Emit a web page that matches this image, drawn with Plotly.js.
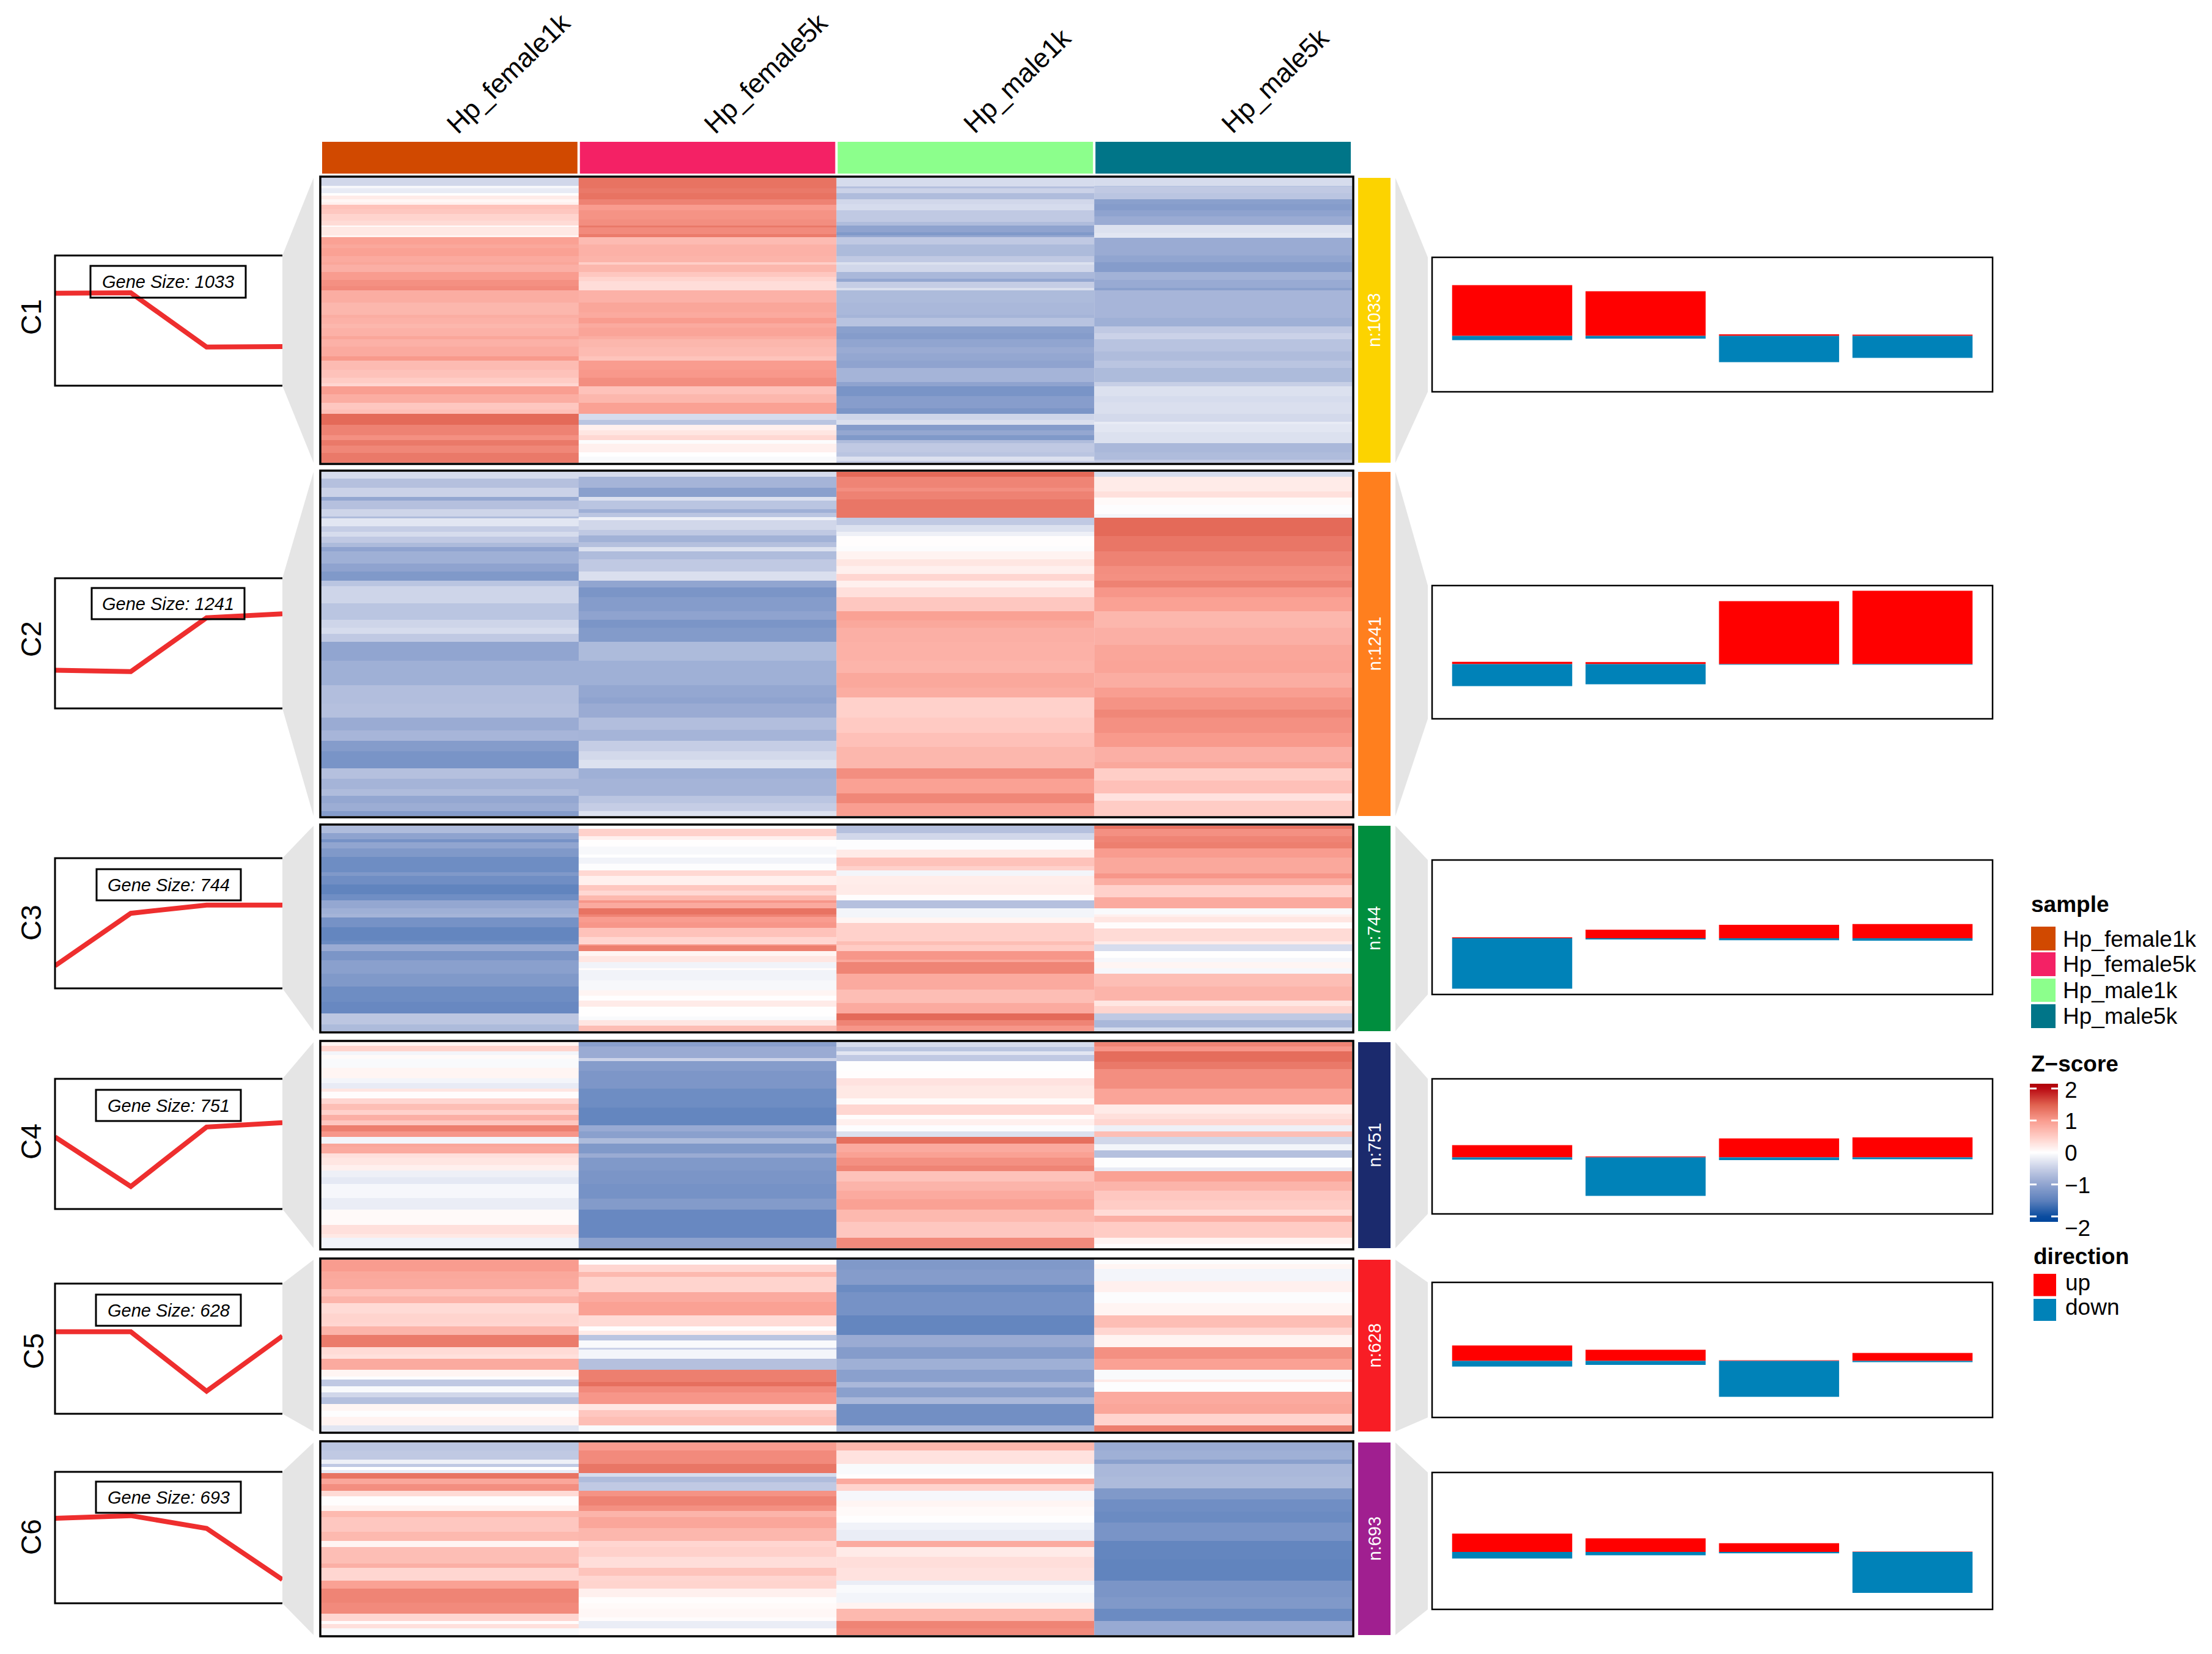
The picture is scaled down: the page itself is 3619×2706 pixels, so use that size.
<!DOCTYPE html>
<html><head><meta charset="utf-8">
<script src="https://cdn.plot.ly/plotly-3.0.1.min.js"></script>
<style>html,body{margin:0;padding:0;background:#fff}</style></head>
<body><div id="chart" style="width:3619px;height:2706px"></div>
<script>
const samples = ['Hp_female1k','Hp_female5k','Hp_male1k','Hp_male5k'];
const sampleColors = ['#D14900','#F42165','#8CFF8C','#007588'];
const clusters = ['C1','C2','C3','C4','C5','C6'];
const clusterSizes = [1033,1241,744,751,628,693];
const clusterColors = ['#FCD300','#FF7F1E','#008E3E','#1B2A6D','#F81D25','#A01F90'];

// cluster mean z-score per sample
const profileC1 = [0.63,0.64,-0.61,-0.60];
const profileC2 = [-0.62,-0.65,0.59,0.68];
const profileC3 = [-0.98,0.23,0.42,0.42];
const profileC4 = [0.16,-0.98,0.39,0.49];
const profileC5 = [0.39,0.39,-0.98,0.29];
const profileC6 = [0.44,0.50,0.21,-0.96];

// up / down bar heights per sample
const upC1 = [83,73,2.5,2];          const downC1 = [7,4.5,43,36];
const upC2 = [3.8,3.2,103,120];      const downC2 = [36,33,1,1];
const upC3 = [1.6,13.9,22,23.3];     const downC3 = [82.4,2,3.3,4];
const upC4 = [20,1.6,31,32.7];       const downC4 = [3.7,62.9,4.5,2.9];
const upC5 = [25.3,18.4,1.1,13];     const downC5 = [9.2,6.5,58.6,1.9];
const upC6 = [29.9,22.2,14.2,0.4];   const downC6 = [10.7,5.4,2.3,67];

// heatmap bands: [end of band in row order, z-score]
const c1a=[[58,-.4],[72,-.08],[94,-.2],[106,0],[125,.2],[140,.08],[153,.15],[172,.6],[198,.55],[230,.42],[252,.35],[260,.03],[300,.22],[310,.1],[345,.95],[365,.88],[402,.95],[432,.85],[445,.9],[482,.8],[520,1],[550,1.1],[572,1.15],[632,.82],[690,.72],[705,.82],[735,.78],[755,.72],[795,.78],[810,.9],[845,.78],[895,.85],[916,1.02],[960,.68],[1000,.6],[1025,.5],[1041,.4],[1080,.98],[1122,.82],[1155,.55],[1176,.62],[1228,1.42],[1280,1.22],[1305,1.1],[1330,1.3],[1368,1.18],[1415,1.3]];
const c1b=[[72,1.35],[94,1.3],[125,1.35],[153,1.22],[180,1],[225,1.08],[252,1.12],[262,1.3],[295,1.15],[310,1.28],[345,.68],[402,.78],[432,.75],[445,.48],[482,.72],[505,.55],[527,.42],[572,.33],[632,.78],[680,.9],[705,.85],[732,1],[752,.85],[795,.92],[810,.82],[850,.72],[895,.68],[916,.58],[960,1],[1000,1.03],[1041,1.12],[1080,.6],[1122,.72],[1176,.95],[1205,-.35],[1228,-.6],[1255,.15],[1280,.25],[1305,.38],[1322,-.03],[1365,.15],[1385,0],[1415,-.05]];
const c1c=[[62,-.35],[72,-.65],[95,-.45],[125,-.7],[150,-.4],[180,-.35],[210,-.55],[235,-.55],[252,-.7],[285,-1],[300,-1.15],[310,-.95],[345,-.55],[402,-.72],[432,-.55],[445,-.3],[482,-.4],[515,-.75],[530,-.95],[558,-.5],[572,-.32],[632,-.72],[690,-.75],[705,-.8],[746,-.62],[780,-1.05],[810,-1.1],[850,-.98],[880,-.9],[916,-.95],[950,-1],[1020,-.8],[1041,-1],[1090,-1.22],[1150,-1.08],[1176,-1.2],[1205,-.42],[1228,-.32],[1255,-1.1],[1280,-.95],[1305,-1.15],[1320,-.7],[1365,-.55],[1385,-.6],[1405,-.3],[1415,-.5]];
const c1d=[[58,-.35],[64,-.6],[95,-.55],[125,-.6],[150,-1.05],[180,-1.1],[210,-1],[250,-.9],[290,-.3],[312,-.25],[400,-.9],[432,-.98],[480,-1.1],[520,-.82],[558,-.92],[572,-1.05],[705,-.78],[747,-.85],[780,-.55],[810,-.45],[870,-.62],[915,-.7],[950,-.6],[1020,-.72],[1040,-.48],[1090,-.3],[1120,-.35],[1176,-.32],[1215,-.38],[1225,-.2],[1265,-.25],[1318,-.3],[1365,-.75],[1400,-.7],[1415,-.55]];

const c2a=[[45,-.35],[85,-.65],[125,-.45],[140,-.95],[178,-.65],[212,-.42],[220,-.7],[255,-.25],[280,-.5],[300,-.35],[328,-.55],[348,-.72],[365,-1],[420,-.85],[455,-1],[496,-1.15],[520,-.6],[595,-.42],[668,-.6],[705,-.42],[730,-.35],[766,-.55],[850,-.98],[960,-.85],[1040,-.68],[1103,-.65],[1160,-.9],[1205,-.78],[1250,-1.1],[1328,-1.22],[1372,-.65],[1420,-.8],[1450,-.7],[1480,-.95],[1515,-.88],[1538,-1.1]];
const c2b=[[36,-.35],[85,-.8],[126,-1.05],[140,-.3],[178,-.6],[195,-.85],[215,-.6],[228,-.15],[270,-.4],[295,-.55],[325,-.82],[348,-.65],[365,-.3],[400,-.7],[455,-.55],[496,-.32],[526,-.98],[568,-1.2],[630,-1.1],[668,-1],[705,-1.2],[766,-1.12],[850,-.72],[960,-.85],[1012,-.95],[1040,-1],[1103,-.9],[1155,-.68],[1205,-.8],[1250,-.5],[1290,-.38],[1328,-.3],[1372,-.85],[1450,-.8],[1480,-.6],[1515,-.5],[1538,-.3]];
const c2c=[[36,1.42],[85,1.2],[100,1.12],[135,1.22],[218,1.32],[250,-.55],[280,-.3],[298,-.15],[345,.02],[365,-.03],[400,.12],[430,.25],[465,.15],[496,.4],[525,.15],[568,.3],[630,.55],[672,.95],[703,.88],[766,.8],[850,.78],[905,.75],[970,.88],[1012,.82],[1103,.45],[1170,.52],[1232,.62],[1328,.72],[1372,1.12],[1438,.95],[1480,1.18],[1538,.98]];
const c2d=[[36,-.35],[100,.2],[128,.3],[160,.05],[200,-.02],[218,-.1],[298,1.42],[365,1.32],[430,1.22],[465,1.12],[496,1.1],[525,1.22],[568,1.05],[630,.95],[705,.72],[780,.8],[850,.9],[905,.92],[970,.82],[1012,.98],[1068,1.08],[1103,1.18],[1170,1.1],[1232,1.02],[1300,.8],[1328,.88],[1380,.48],[1438,.62],[1470,.28],[1538,.5]];

const c3a=[[50,-.7],[80,-1],[95,-1.25],[125,-.98],[165,-1.15],[240,-1.32],[258,-1.15],[300,-1.3],[350,-1.45],[380,-1.3],[417,-.95],[445,-.85],[462,-.8],[510,-1.25],[575,-1.42],[595,-1.35],[626,-.9],[670,-1.2],[738,-1.05],[800,-1.15],[875,-1.32],[932,-1.38],[985,-.58],[1018,-.72]];
const c3b=[[30,-.02],[66,.45],[82,.15],[115,.01],[155,-.07],[168,0],[198,-.12],[232,-.02],[258,.38],[303,.15],[330,.55],[355,.38],[380,.7],[390,1.05],[417,.85],[447,1.35],[460,1.2],[487,1],[513,1.05],[557,.6],[593,.4],[600,1],[626,1.25],[650,.1],[680,.25],[710,-.12],[720,.03],[770,-.12],[818,-.07],[845,.1],[870,.01],[898,.2],[945,.01],[965,-.05],[990,.25],[1018,.65]];
const c3c=[[50,-.65],[82,-.4],[130,-.02],[168,.2],[210,.6],[232,.45],[260,-.1],[300,.18],[352,.2],[380,.02],[417,-.65],[462,-.1],[490,.1],[580,.45],[597,.65],[626,.5],[668,1.05],[680,.9],[738,1.2],[815,.85],[880,.65],[932,.85],[965,1.42],[990,1.2],[1018,1.05]];
const c3d=[[30,1.35],[66,1.1],[95,1.2],[125,1.25],[170,1],[246,.88],[270,1.05],[303,.82],[365,.45],[417,.85],[447,-.05],[460,.15],[486,.25],[515,.03],[580,.35],[594,.2],[626,-.35],[660,.01],[680,-.08],[710,.1],[738,-.08],[800,.65],[870,.75],[895,.25],[932,.42],[965,-.55],[1000,-.75],[1018,-.35]];

const c4a=[[25,.1],[54,.42],[70,-.1],[90,.05],[135,-.05],[185,.1],[208,-.1],[235,-.2],[252,.25],[283,.03],[312,.4],[340,.65],[365,.45],[393,.8],[417,.55],[447,1.25],[472,1.05],[505,-.1],[520,.9],[555,.85],[575,.3],[612,.25],[640,.15],[672,-.15],[705,-.22],[775,-.08],[830,-.18],[905,.05],[950,.3],[968,.22],[1020,-.12]];
const c4b=[[30,-1.05],[85,-.9],[102,-.45],[150,-1.1],[235,-1.18],[330,-1.32],[417,-1.42],[447,-.92],[478,-1.05],[505,-.72],[555,-1.15],[575,-.9],[640,-1.15],[705,-1.2],[778,-1.25],[830,-1.12],[968,-1.38],[1020,-1.02]];
const c4c=[[32,-.35],[54,-.6],[70,-.25],[102,-.55],[150,-.01],[185,.02],[222,.28],[283,.22],[315,.05],[365,.4],[385,.03],[417,.15],[445,-.02],[472,-.3],[505,1.38],[550,.85],[575,.95],[615,1.1],[642,1.2],[692,.6],[738,.75],[780,.85],[830,.95],[890,.7],[968,.55],[1020,1.15]];
const c4d=[[30,1.2],[54,1.05],[105,1.4],[140,1.3],[235,1.12],[315,.92],[360,.2],[385,.3],[417,.4],[445,-.15],[472,.65],[510,-.4],[540,-.1],[575,-.65],[625,-.02],[642,-.2],[692,.95],[738,.75],[785,.55],[830,.5],[862,.35],[890,.8],[968,.5],[1000,.12],[1020,.03]];

const c5a=[[68,1],[105,.88],[155,.85],[190,.6],[225,.75],[275,.35],[322,.42],[340,.4],[382,.75],[443,1.28],[478,.35],[500,.3],[552,.85],[585,.1],[602,-.02],[635,-.55],[665,-.05],[690,-.4],[722,-.65],[755,.1],[785,-.02],[828,.12],[858,-.25]];
const c5b=[[35,.02],[70,.4],[95,.7],[170,.42],[218,.85],[285,.95],[340,.35],[360,.02],[382,.2],[408,-.6],[445,-.05],[455,-.45],[498,-.1],[552,-.65],[615,1.25],[635,1.38],[665,1.15],[722,1.05],[752,.25],[785,.55],[828,.65],[858,-.05]];
const c5c=[[58,-1.15],[135,-1.1],[170,-1.35],[285,-1.25],[382,-1.42],[443,-.9],[500,-1.1],[552,-.85],[615,-1.05],[640,-.75],[690,-1.05],[722,-.75],[828,-1.28],[858,-.75]];
const c5d=[[30,-.03],[55,.1],[115,-.1],[170,.15],[225,-.03],[285,.1],[345,.65],[382,.4],[443,.12],[500,1.1],[552,.95],[600,-.05],[615,.2],[662,-.02],[722,.85],[770,.9],[828,.42],[858,1.25]];

const c6a=[[50,-.6],[95,-.55],[115,-.15],[130,-.55],[145,0],[160,-.2],[187,1.35],[215,.9],[247,1.12],[275,.35],[320,.02],[347,.12],[378,.7],[450,.55],[495,.7],[525,.1],[605,.65],[627,.8],[690,.4],[730,.95],[798,1.2],[852,1.15],[888,.4],[905,.03],[925,.3],[958,-.05]];
const c6b=[[50,1],[115,1.15],[160,1.32],[180,-.35],[207,-.7],[247,-.55],[275,1.08],[320,1.22],[347,1.1],[378,.75],[430,.9],[495,.72],[525,.4],[572,.45],[627,.32],[665,.58],[690,.4],[730,.42],[770,.15],[800,.02],[830,.05],[870,.08],[888,.03],[925,-.18],[958,.03]];
const c6c=[[50,.72],[115,.28],[165,-.05],[187,.02],[215,.85],[247,.42],[295,-.08],[325,.1],[370,.05],[405,.01],[440,-.12],[495,-.18],[525,.85],[572,.2],[627,.32],[690,.28],[710,-.18],[750,-.05],[798,-.1],[830,.12],[888,.7],[925,1.2],[958,1.15]];
const c6d=[[50,-.9],[95,-.85],[115,-1.05],[180,-.75],[235,-.72],[290,-1.15],[350,-1.3],[405,-1.35],[495,-1.22],[585,-1.42],[690,-1.45],[770,-1.2],[830,-1.15],[888,-1.35],[958,-.92]];

const rowStart = [20,14,14,8,10,10];
const zTicks = [2,1,0,-1,-2];
const zLegend = [-2.17,-2,-1.5,-1,-0.5,0,0.5,1,1.5,2,2.15];
const zColors = ['#00469C','#0A4C9F','#5C80BC','#8FA3CF','#C5CDE5','#FFFFFF','#FFCCC5','#F99C8F','#E0614F','#BA0C14','#B00008'];
const directions = ['up','down'];
const directionColors = ['#FF0000','#0082B8'];

// ---- page layout in pixels
const W=3619,H=2706;
const fx=x=>x/W, fy=y=>1-y/H;
const heatX=[525,2212];
const heatY=[[291,757],[772,1335],[1351,1687],[1705,2042],[2061,2342],[2360,2675]];
const lineX=[90,462];
const lineY=[[418,631],[946,1159],[1404,1617],[1765,1978],[2100,2313],[2408,2623]];
const barX=[2343,3260];
const barY=[[421,641],[958,1176],[1407,1627],[1765,1986],[2098,2319],[2409,2633]];
const barZero=[549.5,1086.5,1535,1893.5,2226.6,2539];
const geneBox=[[148,402,435,487],[150,400,962,1013],[158,394,1422,1473],[157,394,1783,1834],[157,394,2118,2169],[157,394,2424,2475]];
const clusterLabelX=[51,51,51,51,55,51];
const clusterLabelY=[519,1046,1510,1868,2211,2515];
const FONT='"Liberation Sans", Arial, sans-serif';

const heat=[[c1a,c1b,c1c,c1d],[c2a,c2b,c2c,c2d],[c3a,c3b,c3c,c3d],[c4a,c4b,c4c,c4d],[c5a,c5b,c5c,c5d],[c6a,c6b,c6c,c6d]];
const profiles=[profileC1,profileC2,profileC3,profileC4,profileC5,profileC6];
const ups=[upC1,upC2,upC3,upC4,upC5,upC6], downs=[downC1,downC2,downC3,downC4,downC5,downC6];

const data=[], shapes=[], annotations=[];
const layout={width:W,height:H,margin:{l:0,r:0,t:0,b:0},paper_bgcolor:'#fff',plot_bgcolor:'rgba(0,0,0,0)',showlegend:false,barmode:'relative',
 font:{family:FONT,color:'#000'},
 coloraxis:{cmin:zLegend[0],cmax:zLegend[zLegend.length-1],showscale:false,
  colorscale:zLegend.map((v,i)=>[(v-zLegend[0])/(zLegend[zLegend.length-1]-zLegend[0]),zColors[i]])},
 shapes,annotations};
const hidden={visible:false,fixedrange:true,type:'linear'};
layout.xaxis={...hidden,domain:[fx(heatX[0]),fx(heatX[1])],range:[0,4]};
layout.xaxis2={...hidden,domain:[fx(lineX[0]),fx(lineX[1])],range:[1,4],anchor:'y7'};
layout.xaxis3={...hidden,domain:[fx(barX[0]),fx(barX[1])],range:[0.4,4.6],anchor:'y13'};
layout.xaxis4={...hidden,domain:[fx(3321),fx(3367)],range:[0,1],anchor:'y19'};
const ya=n=>n===1?'yaxis':'yaxis'+n, yr=n=>n===1?'y':'y'+n;

const rect=(x0,x1,y0,y1,fill,line,lw)=>({type:'rect',xref:'paper',yref:'paper',x0:fx(x0),x1:fx(x1),y0:fy(y1),y1:fy(y0),
 fillcolor:fill||'rgba(0,0,0,0)',line:{width:line?lw:0,color:line||'rgba(0,0,0,0)'},layer:'above'});
const poly=(pts,fill)=>({type:'path',xref:'paper',yref:'paper',layer:'below',fillcolor:fill,line:{width:0},
 path:'M'+pts.map(p=>fx(p[0])+','+fy(p[1])).join('L')+'Z'});
const txt=(x,y,text,size,o={})=>annotations.push({xref:'paper',yref:'paper',x:fx(x),y:fy(y),text,showarrow:false,
 xanchor:o.xa||'center',yanchor:'middle',textangle:o.a||0,font:{size,family:FONT,color:o.c||'#000',style:o.it?'italic':'normal',weight:o.b?700:400}});

clusters.forEach((c,k)=>{
 const [t,b]=heatY[k];
 const yH=1+k, yL=7+k, yB=13+k;
 const last=heat[k][0][heat[k][0].length-1][0];
 layout[ya(yH)]={...hidden,anchor:'x',domain:[fy(b),fy(t)],range:[last,rowStart[k]]};
 layout[ya(yL)]={...hidden,anchor:'x2',domain:[fy(lineY[k][1]),fy(lineY[k][0])],range:[-1.5,1.5]};
 layout[ya(yB)]={...hidden,anchor:'x3',domain:[fy(barY[k][1]),fy(barY[k][0])],
   range:[barZero[k]-barY[k][1],barZero[k]-barY[k][0]]};
 heat[k].forEach((bands,j)=>{
  data.push({type:'heatmap',x:[j,j+1],y:[rowStart[k],...bands.map(r=>r[0])],z:bands.map(r=>[r[1]]),
    coloraxis:'coloraxis',xaxis:'x',yaxis:yr(yH),hoverinfo:'skip',zsmooth:false});
 });
 data.push({type:'scatter',mode:'lines',x:[1,2,3,4],y:profiles[k],xaxis:'x2',yaxis:yr(yL),
   line:{color:'#EE2E2E',width:8},hoverinfo:'skip'});
 data.push({type:'bar',x:[1,2,3,4],y:ups[k],width:.9,xaxis:'x3',yaxis:yr(yB),marker:{color:directionColors[0],line:{width:0}},name:directions[0],hoverinfo:'skip'});
 data.push({type:'bar',x:[1,2,3,4],y:downs[k].map(v=>-v),width:.9,xaxis:'x3',yaxis:yr(yB),marker:{color:directionColors[1],line:{width:0}},name:directions[1],hoverinfo:'skip'});

 // funnels
 shapes.push(poly([[513,t],[lineX[1],lineY[k][0]],[lineX[1],lineY[k][1]],[513,b]],'#E5E5E5'));
 shapes.push(poly([[2283,t],[2336,barY[k][0]],[2336,barY[k][1]],[2283,b]],'#E5E5E5'));
 // borders
 shapes.push(rect(heatX[0]-1,heatX[1]+2,t-2,b+2,null,'#000',3.5));
 shapes.push(rect(barX[0],barX[1],barY[k][0],barY[k][1],null,'#000',2.5));
 shapes.push({type:'path',xref:'paper',yref:'paper',layer:'above',line:{width:3,color:'#000'},
   path:`M${fx(lineX[1])},${fy(lineY[k][0])}L${fx(lineX[0])},${fy(lineY[k][0])}L${fx(lineX[0])},${fy(lineY[k][1])}L${fx(lineX[1])},${fy(lineY[k][1])}`});
 // cluster side bar
 shapes.push(rect(2222,2275,t,b,clusterColors[k]));
 txt(2248,(t+b)/2,'n:'+clusterSizes[k],29,{a:-90,c:'#fff'});
 // labels
 txt(clusterLabelX[k],clusterLabelY[k],c,46,{a:-90});
 const g=geneBox[k];
 shapes.push(rect(g[0],g[1],g[2],g[3],null,'#000',3));
 txt((g[0]+g[1])/2,(g[2]+g[3])/2,'Gene Size: '+clusterSizes[k],29,{it:true});
});

// top annotation + column labels
const colCx=[832,1253,1664,2086], colCy=[120,120,131,131];
samples.forEach((s,j)=>{
 const w=(heatX[1]-heatX[0])/4;
 shapes.push(rect(heatX[0]+j*w+2,heatX[0]+(j+1)*w-2,232,284,sampleColors[j]));
 txt(colCx[j],colCy[j],s,44,{a:-44});
});

// legends
txt(3321,1480,'sample',37,{xa:'left',b:true});
[[1516,1555,1536],[1558,1597,1577],[1601,1639,1620],[1643,1682,1663]].forEach((r,j)=>{
 shapes.push(rect(3323,3363,r[0],r[1],sampleColors[j]));
 txt(3373,r[2],samples[j],37,{xa:'left'});
});
txt(3321,1740,'Z\u2212score',37,{xa:'left',b:true});
layout.yaxis19={...hidden,anchor:'x4',domain:[fy(1999),fy(1773)],range:[zLegend[0],zLegend[zLegend.length-1]]};
data.push({type:'heatmap',x:[0,1],y:zLegend,z:zLegend.map(v=>[v,v]),coloraxis:'coloraxis',xaxis:'x4',yaxis:'y19',zsmooth:'best',hoverinfo:'skip'});
zTicks.forEach(v=>{
 [[0,.24],[.76,1]].forEach(s=>shapes.push({type:'line',xref:'x4',yref:'y19',x0:s[0],x1:s[1],y0:v,y1:v,line:{color:'#fff',width:3},layer:'above'}));
});
[[1783,'2'],[1834,'1'],[1886,'0'],[1939,'\u22121'],[2009,'\u22122']].forEach(r=>txt(3376,r[0],r[1],37,{xa:'left'}));
txt(3325,2055,'direction',37,{xa:'left',b:true});
[[2084,2120.5,2098.6],[2125,2161,2138]].forEach((r,j)=>{
 shapes.push(rect(3327,3364,r[0],r[1],directionColors[j]));
 txt(3377,r[2],directions[j],37,{xa:'left'});
});

Plotly.newPlot('chart',data,layout,{staticPlot:true,displayModeBar:false});
</script></body></html>
